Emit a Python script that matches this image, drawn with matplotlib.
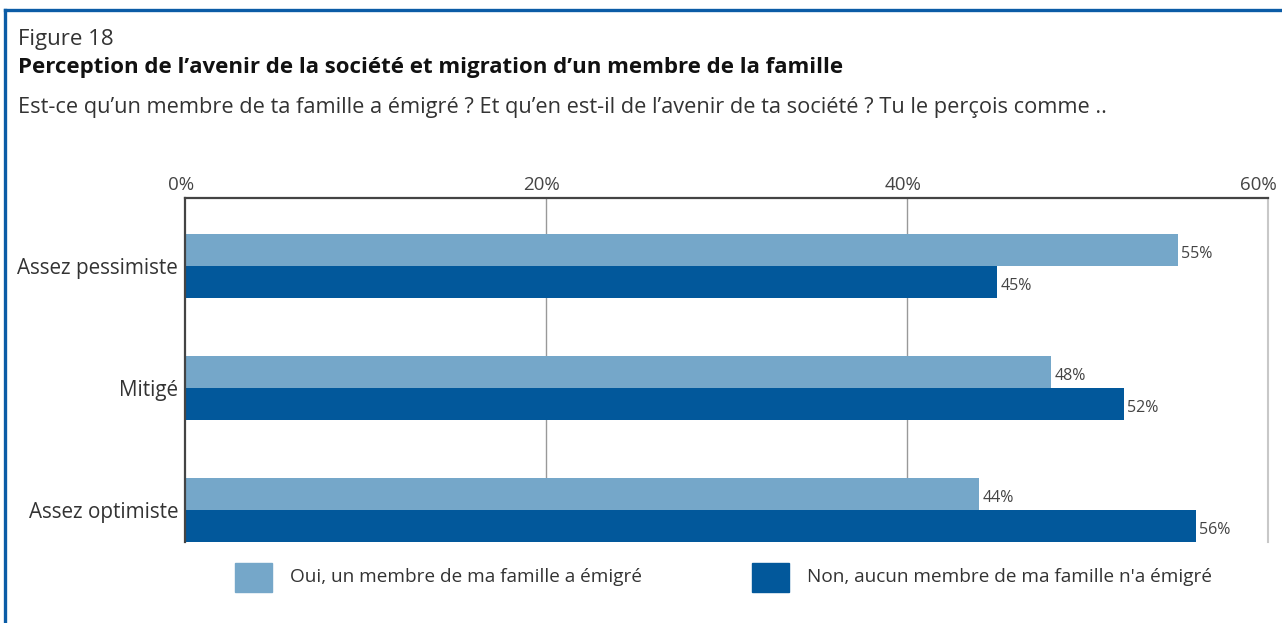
import matplotlib
matplotlib.use("Agg")
import matplotlib.pyplot as plt
import matplotlib.transforms as mtransforms
from matplotlib.patches import Rectangle
from matplotlib.lines import Line2D

plt.rcParams['font.family'] = ['Open Sans', 'DejaVu Sans']

categories = ["Assez pessimiste", "Mitigé", "Assez optimiste"]
series_names = ["Oui, un membre de ma famille a émigré",
                "Non, aucun membre de ma famille n'a émigré"]
oui_values = [55, 48, 44]
non_values = [45, 52, 56]
x_ticks = [0, 20, 40, 60]
x_tick_labels = ["0%", "20%", "40%", "60%"]

LIGHT = "#75A7C9"
DARK = "#02589B"
FRAME = "#0B5CA6"
TEXT = "#333333"

W, H = 1282, 623
fig = plt.figure(figsize=(W / 100, H / 100), dpi=100)

# outer frame: top and left rules
fig.add_artist(Line2D([5 / W, 1], [1 - 10 / H, 1 - 10 / H], color=FRAME, lw=2.4,
                      transform=fig.transFigure))
fig.add_artist(Line2D([5 / W, 5 / W], [0, 1 - 10 / H], color=FRAME, lw=2.4,
                      transform=fig.transFigure))

# headings
fig.text(18 / W, 1 - 39 / H, "Figure 18", fontsize=16, color=TEXT, va="center")
fig.text(18 / W, 1 - 68 / H,
         "Perception de l\u2019avenir de la société et migration d\u2019un membre de la famille",
         fontsize=16, fontweight="bold", color="#111111", va="center")
fig.text(18 / W, 1 - 107 / H,
         "Est-ce qu\u2019un membre de ta famille a émigré ? Et qu\u2019en est-il de l\u2019avenir "
         "de ta société ? Tu le perçois comme ..",
         fontsize=15.7, color=TEXT, va="center")

ax = fig.add_axes([185 / W, 1 - 542 / H, (1268 - 185) / W, (542 - 198) / H])

bar_h = 0.262
ys = list(range(len(categories)))
for y, v1, v2 in zip(ys, oui_values, non_values):
    ax.barh(y - bar_h / 2, v1, height=bar_h, color=LIGHT, zorder=2)
    ax.barh(y + bar_h / 2, v2, height=bar_h, color=DARK, zorder=2)
    ax.text(v1 + 0.2, y - bar_h / 2 + 0.03, f"{v1}%", va="center", ha="left",
            fontsize=11.5, color="#444444")
    ax.text(v2 + 0.2, y + bar_h / 2 + 0.03, f"{v2}%", va="center", ha="left",
            fontsize=11.5, color="#444444")

ax.set_xlim(0, 60)
ax.set_ylim(2 + bar_h, -0.557)
ax.set_xticks(x_ticks)
ax.set_xticklabels(x_tick_labels)
ax.xaxis.tick_top()
ax.tick_params(axis="x", length=0, pad=3, labelsize=13.5, labelcolor="#444444")
for lbl, dx in zip(ax.get_xticklabels(), [-4, -4, -4, -10]):
    lbl.set_transform(lbl.get_transform() +
                      mtransforms.ScaledTranslation(dx / 100, 0, fig.dpi_scale_trans))
ax.set_yticks(ys)
ax.set_yticklabels(categories)
ax.tick_params(axis="y", length=0, pad=5, labelsize=14.9, labelcolor=TEXT)

for xv in x_ticks[1:-1]:
    ax.axvline(xv, color="#999999", lw=1, zorder=1)

ax.spines["bottom"].set_visible(False)
ax.spines["right"].set_color("#C8C8C8")
ax.spines["right"].set_linewidth(1.5)
for s in ("top", "left"):
    ax.spines[s].set_color("#444444")
    ax.spines[s].set_linewidth(1.6)

# legend
for x0, col, label in [(235, LIGHT, series_names[0]), (752, DARK, series_names[1])]:
    fig.add_artist(Rectangle((x0 / W, 1 - 592 / H), 37 / W, 29 / H, color=col,
                             transform=fig.transFigure))
    fig.text((x0 + 55) / W, 1 - 577 / H, label, fontsize=13.7, color=TEXT, va="center")

fig.savefig("out.png", dpi=100)
